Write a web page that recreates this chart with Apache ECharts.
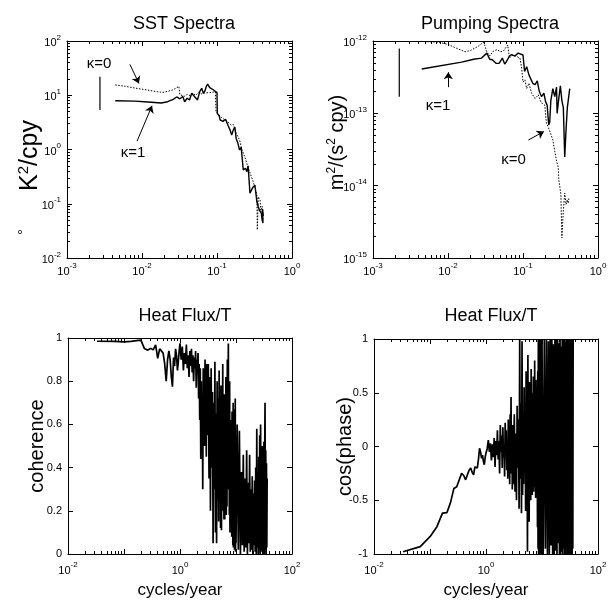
<!DOCTYPE html>
<html>
<head>
<meta charset="utf-8">
<script src="https://cdn.jsdelivr.net/npm/echarts@6/dist/echarts.min.js"></script>
<style>
html,body{margin:0;padding:0;background:#fff}
#chart{width:610px;height:603px}
</style>
</head>
<body>
<div id="chart"></div>
<script>
// SST spectra (cycles/year, K^2/cpy)
var sstK1 = [[0.0044,7.9],[0.008,7.8],[0.012,7.5],[0.018,7.2],[0.022,7.6],[0.026,8.4],[0.029,9.3],[0.032,8.6],[0.035,9.5],[0.037,7.6],[0.04,8.8],[0.043,8.2],[0.046,10.9],[0.05,9.5],[0.055,8.2],[0.059,11.8],[0.0625,13.4],[0.066,10.8],[0.069,12.0],[0.072,14.5],[0.075,16.1],[0.08,13.8],[0.085,14.5],[0.09,12.5],[0.1,11.2],[0.101,4.6],[0.107,4.2],[0.11,3.5],[0.115,3.8],[0.12,3.3],[0.13,3.6],[0.14,2.8],[0.149,2.3],[0.157,1.85],[0.165,2.3],[0.173,2.6],[0.18,1.6],[0.19,1.3],[0.2,0.98],[0.21,1.1],[0.224,0.42],[0.24,0.45],[0.25,0.39],[0.26,0.5],[0.275,0.156],[0.3,0.2],[0.32,0.22],[0.34,0.11],[0.355,0.088],[0.37,0.075],[0.39,0.067],[0.4,0.05],[0.41,0.044],[0.405,0.08],[0.415,0.06]];
var sstK0 = [[0.0044,15.5],[0.006,14.6],[0.008,13.6],[0.0105,12.8],[0.013,12.2],[0.016,11.6],[0.019,11.3],[0.022,11.8],[0.026,12.6],[0.029,13.8],[0.031,14.6],[0.032,10.2],[0.034,11.0],[0.037,9.6],[0.04,10.4],[0.044,9.8],[0.048,10.8],[0.052,10.0],[0.057,11.4],[0.062,10.6],[0.068,11.0],[0.08,11.2],[0.095,11.6],[0.097,5.0],[0.105,4.3],[0.115,3.9],[0.125,3.6],[0.14,3.2],[0.155,2.8],[0.165,2.9],[0.18,2.0],[0.2,1.5],[0.215,1.0],[0.237,0.7],[0.25,0.55],[0.27,0.4],[0.3,0.27],[0.32,0.2],[0.34,0.15],[0.345,0.033],[0.355,0.135],[0.375,0.117],[0.385,0.07],[0.4,0.09],[0.41,0.05]];
var sstBar = [[0.00275,22],[0.00275,5.35]];

// Pumping spectra (m^2/(s^2 cpy))
var pumpK1 = [[0.00446,4.1e-13],[0.0152,5.1e-13],[0.022,5.6e-13],[0.028,5.8e-13],[0.033,6.8e-13],[0.036,5.6e-13],[0.039,5.5e-13],[0.044,4.9e-13],[0.048,4.9e-13],[0.053,5.8e-13],[0.057,4.8e-13],[0.06,5.2e-13],[0.066,6.2e-13],[0.0706,6.5e-13],[0.078,6.2e-13],[0.086,6.8e-13],[0.1,6.4e-13],[0.105,3.8e-13],[0.112,4.4e-13],[0.12,3.4e-13],[0.126,3.2e-13],[0.135,2.6e-13],[0.145,2.5e-13],[0.155,2.8e-13],[0.165,2.0e-13],[0.177,1.7e-13],[0.19,1.9e-13],[0.2,1.45e-13],[0.21,1.3e-13],[0.22,6.9e-14],[0.227,7.5e-14],[0.235,1.5e-13],[0.25,2.2e-13],[0.265,1.7e-13],[0.28,2.3e-13],[0.285,1.0e-13],[0.3,1.6e-13],[0.315,2.4e-13],[0.33,1.5e-13],[0.345,1.2e-13],[0.36,2.5e-14],[0.375,6e-14],[0.39,1.2e-13],[0.42,2.2e-13]];
var pumpK0 = [[0.0044,9.9e-13],[0.0075,9.6e-13],[0.01,9.0e-13],[0.0135,7.8e-13],[0.0169,7.1e-13],[0.02,7.4e-13],[0.025,8.4e-13],[0.0296,9.6e-13],[0.031,8.6e-13],[0.033,7.0e-13],[0.036,6.2e-13],[0.04,7.2e-13],[0.045,7.6e-13],[0.05,7.1e-13],[0.055,7.3e-13],[0.0625,8.8e-13],[0.066,5.8e-13],[0.072,6.4e-13],[0.08,6.2e-13],[0.091,5.8e-13],[0.096,4.2e-13],[0.1,2.7e-13],[0.106,2.9e-13],[0.112,2.2e-13],[0.12,2.6e-13],[0.13,1.9e-13],[0.145,1.6e-13],[0.16,1.8e-13],[0.175,1.4e-13],[0.195,1.3e-13],[0.205,7.3e-14],[0.215,6.6e-14],[0.23,5.5e-14],[0.25,4.3e-14],[0.265,3.0e-14],[0.28,2.2e-14],[0.295,1.8e-14],[0.3,1.2e-14],[0.31,9.6e-15],[0.32,7.5e-15],[0.33,1.9e-15],[0.345,4.5e-15],[0.36,7.9e-15],[0.375,5.5e-15],[0.39,6.4e-15],[0.4,5.7e-15],[0.41,6.8e-15]];
var pumpBar = [[0.00224,7.9e-13],[0.00224,1.7e-13]];

// heat flux / T cross spectrum, shared frequency list (cycles/year)
var freq = [0.033,0.067,0.1,0.133,0.167,0.2,0.233,0.267,0.3,0.333,0.367,0.4,0.433,0.467,0.5,0.533,0.567,0.6,0.633,0.667,0.7,0.733,0.767,0.8,0.833,0.867,0.9,0.933,0.967,1.0,
  1.05,1.1,1.15,1.2,1.25,1.3,1.35,1.4,1.45,1.5,1.55,1.6,1.65,1.7,1.75,1.8,1.85,1.9,1.95,2.0,2.05,2.1,2.15,2.2,2.25,2.3,2.35,2.4,2.45,2.5,2.55,2.6,2.65,2.7,2.75,2.8,2.85,2.9,2.95,3.0,
  3.1,3.2,3.3,3.4,3.5,3.6,3.7,3.8,3.9,4.0,4.1,4.2,4.3,4.4,4.5,4.6,4.7,4.8,4.9,5.0,5.1,5.2,5.3,5.4,5.5,5.6,5.7,5.8,5.9,6.0,6.1,6.2,6.3,6.4,6.5,6.6,6.7,6.8,6.9,7.0,7.1,7.2,7.3,7.4,7.5,7.6,7.7,7.8,7.9,8.0,8.1,8.2,8.3,8.4,8.5,8.6,8.7,8.8,8.9,9.0,9.1,9.2,9.3,9.4,9.5,9.6,9.7,9.8,9.9,10.0,
  10.5,11,11.5,12,12.5,13,13.5,14,14.5,15,15.5,16,16.5,17,17.5,18,18.5,19,19.5,20,20.5,21,21.5,22,22.5,23,23.5,24,24.5,25,25.5,26,26.5,27,27.5,28,28.5,29,29.5,30,30.5,31,31.5,32,32.5,33,33.5,34,34.5,35,35.5,36];
var coherence = [0.985,0.984,0.982,0.984,0.988,0.99,0.95,0.944,0.952,0.945,0.968,0.906,0.95,0.944,0.93,0.88,0.80,0.9,0.94,0.9,0.82,0.775,0.91,0.87,0.95,0.92,0.85,0.89,0.94,0.975,
  0.90,0.96,0.85,0.93,0.88,0.97,0.86,0.92,0.82,0.94,0.87,0.95,0.84,0.92,0.80,0.91,0.86,0.94,0.77,0.90,0.85,0.93,0.72,0.88,0.62,0.86,0.44,0.80,0.55,0.70,0.30,0.86,0.58,0.83,0.50,0.90,0.62,0.78,0.45,0.88,
  0.55,0.88,0.35,0.82,0.20,0.86,0.40,0.75,0.05,0.70,0.30,0.89,0.10,0.65,0.05,0.80,0.25,0.72,0.15,0.85,0.35,0.60,0.12,0.78,0.11,0.68,0.30,0.88,0.20,0.55,0.16,0.74,0.16,0.62,0.28,0.82,0.18,0.58,0.22,0.90,0.35,0.70,0.975,0.30,0.65,0.18,0.80,0.10,0.55,0.20,0.62,0.34,0.48,0.08,0.66,0.15,0.52,0.04,0.70,0.03,0.45,0.10,0.67,0.02,0.50,0.06,0.72,0.01,0.40,0.05,
  0.60,0.02,0.57,0.00,0.38,0.04,0.46,0.01,0.35,0.03,0.48,0.00,0.33,0.05,0.46,0.01,0.30,0.02,0.36,0.00,0.28,0.04,0.34,0.01,0.40,0.00,0.58,0.03,0.38,0.00,0.45,0.02,0.55,0.00,0.60,0.04,0.42,0.01,0.50,0.00,0.46,0.03,0.52,0.00,0.44,0.70,0.02,0.48,0.00,0.42,0.03,0.35];
var cosPhase = [-0.979,-0.932,-0.839,-0.746,-0.62,-0.616,-0.52,-0.39,-0.374,-0.31,-0.25,-0.27,-0.31,-0.26,-0.22,-0.20,-0.24,-0.265,-0.19,-0.18,-0.20,-0.12,-0.017,-0.05,-0.11,-0.08,-0.14,-0.17,-0.10,-0.06,
  -0.02,0.06,-0.05,0.03,-0.13,0.02,-0.10,0.08,-0.19,0.05,-0.08,0.15,-0.12,0.05,-0.25,0.20,-0.05,0.10,-0.20,0.18,-0.10,0.02,-0.28,0.22,-0.05,0.15,-0.22,0.05,-0.30,0.25,-0.12,0.10,-0.35,0.30,-0.08,0.46,-0.25,0.12,-0.40,0.20,
  -0.35,0.30,-0.42,0.12,-0.50,0.38,-0.20,0.25,-0.58,1.00,-0.30,0.40,-0.62,0.98,-0.45,0.20,-0.35,0.55,-0.15,0.30,-0.60,0.70,-0.40,0.15,-0.98,0.85,-0.30,0.45,-0.70,0.60,-0.20,0.35,-0.50,0.72,-0.35,0.25,-0.45,0.50,-0.20,0.65,-0.42,0.30,-0.38,0.80,-0.10,0.40,-0.48,0.62,-0.30,0.55,-0.45,0.35,-0.75,0.70,-0.95,1.00,-1.00,0.90,-0.85,1.00,-1.00,0.95,-0.90,1.00,-1.00,0.85,-1.00,1.00,-0.95,1.00,
  -1.00,1.00,-0.95,1.00,-1.00,0.98,-1.00,1.00,-0.92,1.00,-1.00,0.95,-1.00,1.00,-0.97,1.00,-1.00,1.00,-0.90,0.96,-1.00,1.00,-1.00,0.93,-0.98,1.00,-1.00,1.00,-0.95,1.00,-1.00,0.97,-1.00,1.00,-0.93,1.00,-1.00,1.00,-0.96,0.94,-1.00,1.00,-1.00,1.00,-0.97,1.00,-1.00,0.98,-1.00,1.00,-0.95,1.00];

var FONT = '"Liberation Sans", Arial, Helvetica, sans-serif';

function pair(xs, ys){
    var out = [];
    for (var i = 0; i < xs.length; i++) out.push([xs[i], ys[i]]);
    return out;
}
function pow10(v, every){
    var e = Math.round(Math.log(v) / Math.LN10);
    if (every && e % every !== 0) return '';
    return '{b|10}{s|' + e + '}';
}
// 2..9 x 10^e positions for the small log ticks
function minorVals(lo, hi){
    var out = [];
    for (var e = lo; e < hi; e++)
        for (var m = 2; m <= 9; m++) out.push(m * Math.pow(10, e));
    return out;
}
var tickRich = {
    b: {fontSize: 11, fontFamily: FONT, color: '#000', lineHeight: 15, verticalAlign: 'bottom'},
    s: {fontSize: 8, fontFamily: FONT, color: '#000', lineHeight: 15, verticalAlign: 'top'}
};

function axisBase(gi, type, min, max, pos){
    return {
        gridIndex: gi, type: type, min: min, max: max, position: pos,
        logBase: 10,
        axisLine: {show: true, onZero: false, lineStyle: {color: '#000', width: 1}},
        axisTick: {show: true, inside: true, length: 5, lineStyle: {color: '#000', width: 1}},
        splitLine: {show: false},
        axisLabel: {show: false}
    };
}
function minorAxis(gi, min, max, pos, lo, hi){
    var ax = axisBase(gi, 'log', min, max, pos);
    ax.axisLine = {show: false, onZero: false};
    ax.axisTick = {show: true, inside: true, length: 3, customValues: minorVals(lo, hi),
        lineStyle: {color: '#000', width: 1}};
    return ax;
}
function withLabels(ax, fmt, rich, margin){
    ax.axisLabel = {show: true, formatter: fmt, rich: rich, margin: margin,
        fontSize: 11, fontFamily: FONT, color: '#000'};
    return ax;
}
function setName(ax, name, gap, style){
    ax.name = name;
    ax.nameLocation = 'middle';
    ax.nameGap = gap;
    ax.nameMoveOverlap = false;
    ax.nameTextStyle = style;
    return ax;
}

var grids = [
    {left: 67, top: 41, width: 225, height: 217},
    {left: 373, top: 41, width: 225, height: 217},
    {left: 68, top: 338, width: 224, height: 216},
    {left: 374, top: 339, width: 224, height: 215}
];

var xAxes = [], yAxes = [];
for (var g = 0; g < 2; g++) {
    xAxes.push(withLabels(axisBase(g, 'log', 0.001, 1, 'bottom'), function(v){ return pow10(v); }, tickRich, 4));
    xAxes.push(axisBase(g, 'log', 0.001, 1, 'top'));
}
for (var g2 = 2; g2 < 4; g2++) {
    var xa = withLabels(axisBase(g2, 'log', 0.01, 100, 'bottom'), function(v){ return pow10(v, 2); }, tickRich, 7);
    setName(xa, 'cycles/year', 28, {fontSize: 17, fontFamily: FONT, color: '#000'});
    xAxes.push(xa);
    xAxes.push(axisBase(g2, 'log', 0.01, 100, 'top'));
}

var y0 = withLabels(axisBase(0, 'log', 0.01, 100, 'left'), function(v){ return pow10(v); }, tickRich, 6);
setName(y0, '{d|°}{g| }{n|K}{p|2}{n|/cpy}', 23, {
    padding: [0, 56, 0, 0],
    rich: {
        n: {fontSize: 25, fontFamily: FONT, color: '#000', lineHeight: 28},
        p: {fontSize: 15, fontFamily: FONT, color: '#000', verticalAlign: 'top', lineHeight: 28},
        d: {fontSize: 15, fontFamily: FONT, color: '#000', verticalAlign: 'top', lineHeight: 28},
        g: {fontSize: 15, width: 38, lineHeight: 28}
    }
});
yAxes.push(y0, axisBase(0, 'log', 0.01, 100, 'right'));

var y1 = withLabels(axisBase(1, 'log', 1e-15, 1e-12, 'left'), function(v){ return pow10(v); }, tickRich, 6);
setName(y1, '{n|m}{p|2}{n|/(s}{p|2}{n| cpy)}', 25, {
    padding: [0, 0, 0, 14],
    rich: {
        n: {fontSize: 20, fontFamily: FONT, color: '#000', lineHeight: 22},
        p: {fontSize: 12, fontFamily: FONT, color: '#000', verticalAlign: 'top', lineHeight: 22}
    }
});
yAxes.push(y1, axisBase(1, 'log', 1e-15, 1e-12, 'right'));

var y2 = withLabels(axisBase(2, 'value', 0, 1, 'left'), null, null, 6);
y2.interval = 0.2;
setName(y2, 'coherence', 21, {fontSize: 20, fontFamily: FONT, color: '#000'});
var y2r = axisBase(2, 'value', 0, 1, 'right'); y2r.interval = 0.2;
yAxes.push(y2, y2r);

var y3 = withLabels(axisBase(3, 'value', -1, 1, 'left'), null, null, 6);
y3.interval = 0.5;
setName(y3, 'cos(phase)', 19, {fontSize: 20, fontFamily: FONT, color: '#000'});
var y3r = axisBase(3, 'value', -1, 1, 'right'); y3r.interval = 0.5;
yAxes.push(y3, y3r);

// small log ticks, drawn by extra axes laid over the box edges
for (var m0 = 0; m0 < 2; m0++) {
    xAxes.push(minorAxis(m0, 0.001, 1, 'bottom', -3, 0), minorAxis(m0, 0.001, 1, 'top', -3, 0));
}
yAxes.push(minorAxis(0, 0.01, 100, 'left', -2, 2), minorAxis(0, 0.01, 100, 'right', -2, 2));
yAxes.push(minorAxis(1, 1e-15, 1e-12, 'left', -15, -12), minorAxis(1, 1e-15, 1e-12, 'right', -15, -12));
for (var m2 = 2; m2 < 4; m2++) {
    xAxes.push(minorAxis(m2, 0.01, 100, 'bottom', -2, 2), minorAxis(m2, 0.01, 100, 'top', -2, 2));
}

function lineSeries(gi, data, type, width, extra){
    var s = {
        type: 'line', xAxisIndex: gi * 2, yAxisIndex: gi * 2, data: data,
        showSymbol: false, symbol: 'none', silent: true,
        lineStyle: {color: '#000', width: width, type: type, join: 'bevel'}
    };
    for (var k in extra) s[k] = extra[k];
    return s;
}
function arrow(from, to){
    return [{coord: from, symbol: 'none'}, {coord: to, symbol: 'arrow', symbolSize: 7}];
}
function tag(text, at){
    return {coord: at, symbol: 'circle', symbolSize: 0,
        label: {show: true, position: 'inside', formatter: text, fontSize: 15, fontFamily: FONT, color: '#000'}};
}
var markStyle = {silent: true, lineStyle: {color: '#000', width: 1, type: 'solid'}, label: {show: false}};

var series = [
    lineSeries(0, sstK0, [1.5, 1.5], 1, {
        markLine: Object.assign({data: [arrow([0.0069, 37], [0.0091, 16.5])]}, markStyle),
        markPoint: {silent: true, data: [tag('κ=0', [0.00267, 37.7])]}
    }),
    lineSeries(0, sstK1, 'solid', 1.4, {
        markLine: Object.assign({data: [arrow([0.0086, 1.43], [0.0136, 6.4])]}, markStyle),
        markPoint: {silent: true, data: [tag('κ=1', [0.0076, 0.86])]}
    }),
    lineSeries(0, sstBar, 'solid', 1.2),
    lineSeries(1, pumpK0, [1.5, 1.5], 1, {
        markLine: Object.assign({data: [arrow([0.118, 4.28e-14], [0.19, 5.6e-14])]}, markStyle),
        markPoint: {silent: true, data: [tag('κ=0', [0.0747, 2.27e-14])]}
    }),
    lineSeries(1, pumpK1, 'solid', 1.4, {
        markLine: Object.assign({data: [arrow([0.0101, 2.3e-13], [0.0101, 3.7e-13])]}, markStyle),
        markPoint: {silent: true, data: [tag('κ=1', [0.00735, 1.26e-13])]}
    }),
    lineSeries(1, pumpBar, 'solid', 1.2),
    lineSeries(2, pair(freq, coherence), 'solid', 1.7),
    lineSeries(3, pair(freq, cosPhase), 'solid', 1.7)
];

var titleStyle = {fontSize: 18, fontWeight: 'normal', fontFamily: FONT, color: '#000'};
var option = {
    animation: false,
    backgroundColor: '#fff',
    title: [
        {text: 'SST Spectra', left: 179, top: 10, textAlign: 'center', textStyle: titleStyle},
        {text: 'Pumping Spectra', left: 485, top: 10, textAlign: 'center', textStyle: titleStyle},
        {text: 'Heat Flux/T', left: 180, top: 302, textAlign: 'center', textStyle: titleStyle},
        {text: 'Heat Flux/T', left: 486, top: 302, textAlign: 'center', textStyle: titleStyle}
    ],
    grid: grids,
    xAxis: xAxes,
    yAxis: yAxes,
    series: series
};

var chart = echarts.init(document.getElementById('chart'));
chart.setOption(option);
</script>
</body>
</html>
